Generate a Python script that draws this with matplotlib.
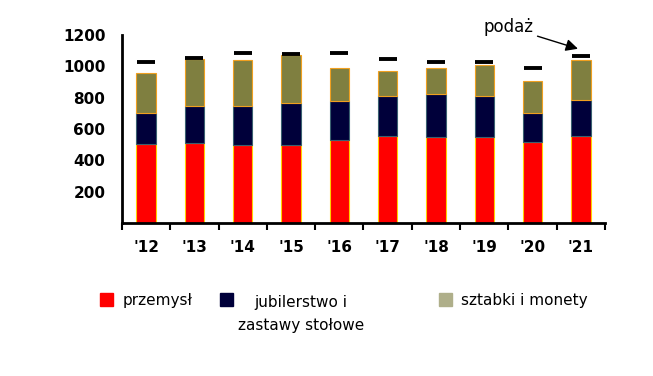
import matplotlib
matplotlib.use("Agg")
import matplotlib.pyplot as plt
from matplotlib.patches import Rectangle
import numpy as np

years = ["'12", "'13", "'14", "'15", "'16", "'17", "'18", "'19", "'20", "'21"]
przemysl = [505, 510, 495, 500, 530, 555, 550, 550, 518, 555]
jubilerstwo = [200, 235, 250, 265, 248, 258, 275, 262, 182, 230]
sztabki = [250, 300, 295, 305, 212, 160, 165, 195, 205, 255]
podaz = [1025, 1055, 1082, 1080, 1082, 1045, 1030, 1030, 988, 1068]

c_red, c_navy, c_olive, c_olive_leg = "#ff0000", "#00003a", "#7f7f40", "#afaf8a"

fig = plt.figure(figsize=(6.53, 3.76), dpi=100)
ax = fig.add_axes([0.1868, 0.407, 0.7397, 0.5])

x = np.arange(len(years))
w = 0.4
ax.bar(x, przemysl, w, color=c_red, edgecolor="#ffd000", linewidth=0.8)
ax.bar(x, jubilerstwo, w, bottom=przemysl, color=c_navy, edgecolor="#3a6070", linewidth=0.8)
bot2 = np.array(przemysl) + np.array(jubilerstwo)
ax.bar(x, sztabki, w, bottom=bot2, color=c_olive, edgecolor="#f0a020", linewidth=0.8)
ax.plot(x, podaz, ls="none", marker="_", ms=12.5, mew=2.8, color="black")

ax.set_xlim(-0.5, len(years) - 0.5)
ax.set_ylim(0, 1200)
ax.set_yticks([200, 400, 600, 800, 1000, 1200])
ax.set_xticks(x)
ax.set_xticklabels(years)
ax.set_xticks(np.arange(-0.5, len(years)), minor=True)
ax.tick_params(axis="x", which="major", length=0, pad=12)
ax.tick_params(axis="x", which="minor", length=5, width=1.5, direction="out")
ax.tick_params(axis="y", length=0, pad=12)
for lab in ax.get_xticklabels() + ax.get_yticklabels():
    lab.set_fontweight("bold")
    lab.set_fontsize(11)
for s in ("top", "right"):
    ax.spines[s].set_visible(False)
for s in ("left", "bottom"):
    ax.spines[s].set_linewidth(2)

ax.annotate("podaż", xy=(8.94, 1112), xytext=(7.5, 1250),
            xycoords="data", textcoords="data", fontsize=12,
            ha="center", va="center", annotation_clip=False,
            arrowprops=dict(arrowstyle="-|>", color="black", lw=1, mutation_scale=18,
                            shrinkA=1, shrinkB=0))

# legend
W, H = 653, 376
def sq(px, py, col):
    fig.patches.append(Rectangle((px / W, 1 - (py + 13) / H), 13 / W, 13 / H,
                                 transform=fig.transFigure, color=col))
sq(100, 293, c_red)
sq(220, 293, c_navy)
sq(439, 293, c_olive_leg)
fig.text(123 / W, 1 - 301 / H, "przemysł", fontsize=11, va="center")
fig.text(301 / W, 1 - 314 / H, "jubilerstwo i\nzastawy stołowe", fontsize=11,
         va="center", ha="center", multialignment="center", linespacing=1.6)
fig.text(461 / W, 1 - 301 / H, "sztabki i monety", fontsize=11, va="center")

fig.savefig("out.png", dpi=100)
